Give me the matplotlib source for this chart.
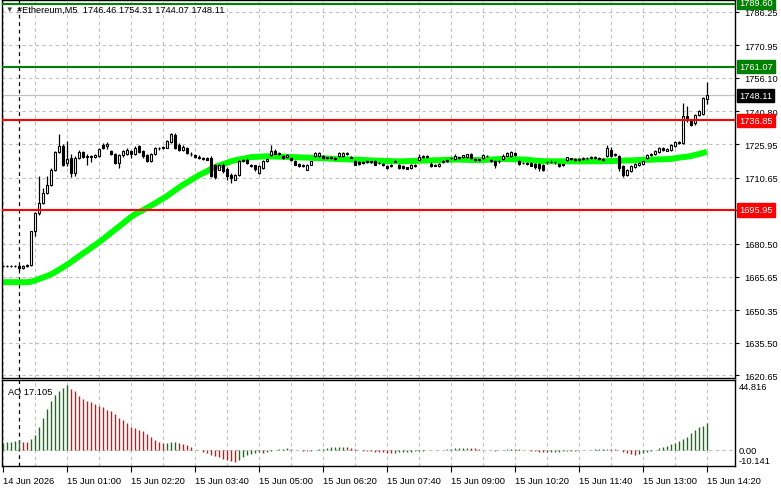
import matplotlib
matplotlib.use("Agg")
import matplotlib.pyplot as plt
import matplotlib.transforms as mtransforms
import numpy as np

# ---------------- data ----------------
opens = [1670.3, 1670.4, 1670.5, 1670.3, 1670.6, 1669.5, 1670.4, 1670.9, 1686.2, 1694.5,
         1699.1, 1703.7, 1707.5, 1714.3, 1722.4, 1725.0, 1717.4, 1719.6, 1712.8, 1719.6,
         1722.4, 1720.0, 1720.4, 1720.0, 1720.4, 1725.4, 1725.0, 1722.7, 1721.2, 1717.4,
         1720.8, 1721.5, 1722.7, 1721.5, 1725.0, 1723.0, 1720.8, 1718.4, 1721.4, 1724.0,
         1724.2, 1724.3, 1727.0, 1730.0, 1725.7, 1723.4, 1724.2, 1721.6, 1720.8, 1720.2,
         1719.5, 1719.6, 1719.6, 1716.3, 1714.3, 1716.6, 1714.7, 1712.0, 1709.8, 1712.0,
         1718.4, 1718.9, 1716.6, 1716.3, 1712.8, 1715.1, 1718.1, 1720.9, 1723.0, 1721.5,
         1720.4, 1720.2, 1719.6, 1718.1, 1716.8, 1716.6, 1714.3, 1716.6, 1720.4, 1720.4,
         1720.4, 1719.6, 1719.8, 1719.6, 1720.4, 1720.4, 1721.2, 1720.2, 1718.4, 1717.8,
         1717.8, 1718.1, 1717.8, 1718.1, 1717.4, 1716.8, 1715.8, 1716.2, 1718.1, 1716.3,
         1715.8, 1715.3, 1715.1, 1716.3, 1718.9, 1719.9, 1720.0, 1716.9, 1716.3, 1715.8,
         1717.6, 1718.4, 1719.4, 1719.2, 1719.8, 1719.9, 1720.0, 1721.5, 1718.9, 1718.9,
         1719.6, 1720.4, 1718.9, 1718.1, 1718.1, 1719.0, 1720.7, 1720.6, 1721.9, 1718.1,
         1717.4, 1717.2, 1717.2, 1716.9, 1716.9, 1716.6, 1717.6, 1718.0, 1717.6, 1717.0,
         1716.6, 1718.9, 1719.4, 1718.9, 1718.9, 1719.2, 1719.6, 1719.4, 1720.0, 1719.6,
         1719.0, 1720.4, 1723.4, 1721.5, 1720.4, 1715.8, 1712.0, 1713.6, 1715.4, 1716.4,
         1717.0, 1719.6, 1720.8, 1721.5, 1722.4, 1724.2, 1723.0, 1723.4, 1725.0, 1726.9,
         1726.3, 1738.6, 1736.7, 1735.5, 1739.1, 1739.7, 1746.46]
highs = [1670.8, 1670.9, 1671.0, 1670.9, 1670.9, 1670.8, 1671.2, 1686.6, 1694.9, 1711.3,
         1706.0, 1711.3, 1715.0, 1723.0, 1730.3, 1725.8, 1727.2, 1721.2, 1720.5, 1723.4,
         1723.0, 1721.2, 1721.0, 1721.5, 1724.2, 1726.4, 1727.0, 1723.4, 1721.9, 1721.2,
         1723.4, 1724.2, 1723.2, 1725.0, 1725.4, 1723.4, 1721.2, 1721.9, 1724.4, 1724.8,
         1725.2, 1727.6, 1731.0, 1730.8, 1726.4, 1725.4, 1724.8, 1722.4, 1721.4, 1720.8,
         1720.0, 1720.0, 1720.5, 1717.0, 1717.0, 1717.2, 1715.4, 1712.8, 1712.5, 1718.9,
         1719.2, 1719.5, 1717.0, 1716.6, 1716.2, 1718.6, 1719.3, 1725.4, 1723.8, 1722.4,
         1721.0, 1721.2, 1720.0, 1718.5, 1717.4, 1717.0, 1716.8, 1718.4, 1722.2, 1722.2,
         1720.8, 1720.2, 1720.3, 1720.0, 1722.2, 1722.3, 1722.4, 1720.6, 1718.8, 1718.3,
         1718.4, 1718.5, 1718.4, 1718.6, 1717.9, 1717.3, 1716.2, 1716.8, 1718.6, 1717.0,
         1716.4, 1715.6, 1716.8, 1716.8, 1721.2, 1721.0, 1721.0, 1717.8, 1716.8, 1717.2,
         1718.5, 1719.2, 1720.0, 1721.2, 1720.2, 1721.0, 1721.5, 1722.0, 1719.4, 1719.3,
         1721.2, 1720.9, 1719.3, 1718.6, 1718.6, 1721.2, 1722.4, 1722.6, 1722.3, 1718.5,
         1717.8, 1717.6, 1717.6, 1717.3, 1717.3, 1717.0, 1718.4, 1718.6, 1718.2, 1717.4,
         1717.0, 1720.2, 1719.8, 1719.4, 1719.6, 1720.0, 1720.2, 1720.4, 1720.6, 1720.2,
         1719.6, 1725.7, 1724.5, 1722.0, 1721.0, 1716.2, 1714.6, 1716.2, 1717.2, 1717.6,
         1718.4, 1721.2, 1721.8, 1723.1, 1724.6, 1724.6, 1724.2, 1726.0, 1727.2, 1727.3,
         1744.7, 1743.2, 1737.3, 1739.6, 1741.6, 1747.5, 1754.31]
lows = [1669.9, 1670.0, 1670.1, 1669.8, 1668.8, 1669.3, 1670.0, 1670.5, 1684.3, 1693.8,
        1698.5, 1703.0, 1706.8, 1713.8, 1721.8, 1716.0, 1716.0, 1710.8, 1711.6, 1719.0,
        1719.6, 1716.6, 1717.6, 1719.4, 1720.0, 1723.5, 1723.5, 1721.0, 1716.8, 1715.1,
        1720.0, 1721.0, 1719.6, 1721.0, 1722.0, 1719.8, 1717.8, 1717.8, 1720.8, 1723.4,
        1723.8, 1724.0, 1726.5, 1723.5, 1723.0, 1723.0, 1721.5, 1720.5, 1719.6, 1719.0,
        1718.5, 1718.6, 1710.8, 1710.0, 1714.0, 1713.0, 1709.8, 1708.2, 1709.5, 1711.5,
        1717.6, 1716.8, 1715.4, 1713.6, 1712.3, 1714.8, 1717.6, 1720.4, 1721.2, 1721.0,
        1719.2, 1719.6, 1718.4, 1716.2, 1715.3, 1715.4, 1714.0, 1716.2, 1720.0, 1720.0,
        1719.0, 1719.2, 1719.2, 1718.8, 1720.0, 1720.0, 1720.8, 1719.4, 1716.2, 1716.6,
        1717.0, 1717.5, 1717.2, 1716.2, 1716.8, 1715.8, 1714.5, 1715.4, 1717.6, 1714.8,
        1714.5, 1714.5, 1714.8, 1715.6, 1718.6, 1719.4, 1719.5, 1715.6, 1715.8, 1715.4,
        1717.2, 1718.0, 1719.0, 1718.8, 1719.3, 1719.6, 1719.6, 1719.2, 1718.4, 1718.3,
        1719.3, 1719.9, 1717.8, 1715.2, 1717.5, 1718.6, 1720.4, 1720.2, 1720.5, 1716.3,
        1716.8, 1716.4, 1715.8, 1714.6, 1713.9, 1713.6, 1717.0, 1717.3, 1717.0, 1715.4,
        1716.0, 1718.2, 1718.8, 1718.3, 1718.4, 1718.8, 1718.9, 1719.0, 1719.2, 1718.8,
        1718.3, 1720.0, 1720.0, 1720.6, 1713.9, 1710.8, 1711.4, 1713.2, 1715.0, 1716.0,
        1716.6, 1719.2, 1720.4, 1721.0, 1722.0, 1722.8, 1722.6, 1723.0, 1724.6, 1725.8,
        1725.9, 1736.0, 1734.1, 1734.4, 1738.6, 1739.3, 1744.07]
closes = [1670.4, 1670.5, 1670.3, 1670.6, 1669.5, 1670.4, 1670.9, 1686.2, 1694.5, 1699.1,
          1703.7, 1707.5, 1714.3, 1722.4, 1725.0, 1716.6, 1719.2, 1712.8, 1719.6, 1722.4,
          1720.0, 1720.4, 1720.0, 1720.8, 1723.9, 1724.0, 1726.0, 1721.5, 1717.4, 1720.8,
          1723.0, 1723.4, 1721.5, 1724.2, 1722.4, 1720.4, 1718.4, 1721.4, 1724.0, 1724.2,
          1724.8, 1727.2, 1730.3, 1724.0, 1723.4, 1724.6, 1721.9, 1721.2, 1720.2, 1719.5,
          1719.0, 1718.9, 1711.3, 1710.8, 1716.3, 1713.6, 1711.3, 1710.5, 1712.0, 1718.4,
          1718.6, 1717.4, 1716.0, 1714.8, 1715.8, 1718.1, 1719.0, 1723.0, 1721.5, 1721.6,
          1719.7, 1720.8, 1718.6, 1716.6, 1716.0, 1715.8, 1716.6, 1718.1, 1721.9, 1721.9,
          1719.4, 1719.8, 1719.6, 1719.0, 1721.9, 1721.9, 1721.9, 1719.8, 1716.6, 1717.0,
          1717.4, 1717.8, 1718.1, 1716.6, 1717.2, 1716.2, 1714.9, 1716.0, 1718.0, 1715.1,
          1714.9, 1714.8, 1716.3, 1716.0, 1719.9, 1720.4, 1720.3, 1715.8, 1716.0, 1716.9,
          1718.1, 1718.9, 1719.6, 1720.4, 1719.6, 1720.8, 1721.2, 1719.6, 1718.9, 1718.7,
          1720.8, 1720.5, 1718.1, 1716.6, 1718.2, 1720.7, 1721.9, 1722.2, 1720.9, 1716.9,
          1717.2, 1716.8, 1716.1, 1715.4, 1715.1, 1714.3, 1718.0, 1717.6, 1717.8, 1715.8,
          1716.4, 1719.9, 1719.2, 1718.8, 1719.2, 1719.6, 1719.4, 1720.0, 1719.6, 1719.0,
          1718.8, 1724.2, 1720.4, 1721.0, 1715.1, 1712.0, 1714.3, 1715.8, 1716.9, 1717.4,
          1718.1, 1720.9, 1721.5, 1722.7, 1724.2, 1723.2, 1723.9, 1725.7, 1726.8, 1726.3,
          1738.6, 1736.7, 1734.8, 1739.1, 1740.9, 1747.0, 1748.11]

ma_values = [1663.1, 1663.1, 1663.1, 1663.1, 1663.1, 1663.1, 1663.1, 1663.3, 1663.9, 1664.6,
             1665.2, 1665.9, 1666.7, 1667.7, 1668.8, 1669.9, 1671.0, 1672.3, 1673.6, 1674.9,
             1676.2, 1677.4, 1678.7, 1680.0, 1681.3, 1682.7, 1684.1, 1685.6, 1687.0, 1688.4,
             1689.9, 1691.3, 1692.8, 1694.0, 1695.0, 1695.9, 1696.9, 1697.9, 1699.0, 1700.1,
             1701.2, 1702.3, 1703.6, 1704.9, 1706.2, 1707.4, 1708.5, 1709.6, 1710.7, 1711.8,
             1712.7, 1713.6, 1714.6, 1715.5, 1716.2, 1716.8, 1717.4, 1718.1, 1718.6, 1718.9,
             1719.3, 1719.6, 1720.0, 1720.1, 1720.2, 1720.3, 1720.4, 1720.3, 1720.3, 1720.2,
             1720.2, 1720.1, 1720.0, 1720.0, 1719.9, 1719.8, 1719.8, 1719.7, 1719.6, 1719.5,
             1719.5, 1719.4, 1719.3, 1719.2, 1719.1, 1719.1, 1719.0, 1718.9, 1718.8, 1718.8,
             1718.7, 1718.6, 1718.5, 1718.4, 1718.4, 1718.3, 1718.2, 1718.2, 1718.1, 1718.1,
             1718.1, 1718.2, 1718.2, 1718.3, 1718.4, 1718.4, 1718.5, 1718.5, 1718.6, 1718.6,
             1718.7, 1718.8, 1718.8, 1718.9, 1718.9, 1718.8, 1718.8, 1718.7, 1718.7, 1718.6,
             1718.7, 1718.8, 1718.9, 1719.0, 1719.1, 1719.2, 1719.1, 1719.1, 1719.0, 1719.0,
             1718.9, 1718.9, 1718.6, 1718.4, 1718.3, 1718.2, 1718.1, 1718.1, 1718.1, 1718.1,
             1718.1, 1718.1, 1718.1, 1718.1, 1718.1, 1718.1, 1718.1, 1718.1, 1718.1, 1718.1,
             1718.1, 1718.2, 1718.2, 1718.3, 1718.3, 1718.4, 1718.5, 1718.5, 1718.6, 1718.7,
             1718.7, 1718.8, 1718.8, 1718.9, 1719.0, 1719.0, 1719.1, 1719.2, 1719.5, 1719.8,
             1720.0, 1720.2, 1720.5, 1721.0, 1721.4, 1721.9, 1722.4]

ao_values = [4.5, 5.1, 5.5, 6.0, 6.6, 5.5, 5.1, 7.2, 9.8, 15.1,
             20.4, 26.2, 31.1, 35.4, 37.9, 39.6, 41.8, 39.2, 37.5, 34.3,
             32.6, 31.1, 30.5, 29.4, 27.9, 27.3, 25.8, 24.7, 23.0, 20.4,
             19.4, 17.3, 14.5, 14.1, 13.0, 12.0, 10.3, 8.1, 6.6, 5.1,
             4.3, 4.6, 5.0, 5.2, 4.6, 3.8, 3.0, 1.7, 0.2, -0.1,
             -1.3, -1.9, -3.4, -4.0, -4.7, -5.5, -6.2, -6.8, -7.7, -6.2,
             -4.7, -3.4, -2.6, -1.9, -1.3, -1.9, -0.9, -0.4, 0.2, 0.6,
             0.9, 1.3, 0.6, 0.2, 0.0, -0.3, -0.5, -0.4, -0.2, 0.5,
             1.0, 1.4, 1.7, 1.9, 2.0, 2.1, 1.9, 1.5, 0.8, 0.2,
             -0.3, -0.6, -0.8, -1.1, -1.3, -1.5, -1.6, -1.8, -1.6, -1.4,
             -1.2, -1.1, -0.9, -0.7, -0.5, -0.3, -0.1, 0.0, 0.1, 0.2,
             0.4, 0.6, 0.9, 1.1, 1.3, 1.5, 1.6, 1.5, 1.2, 0.8,
             0.4, 0.1, -0.1, -0.3, -0.1, 0.2, 0.5, 0.8, 0.9, 0.7,
             0.4, 0.1, -0.3, -0.6, -1.0, -1.3, -1.4, -1.2, -1.0, -0.9,
             -0.8, -0.6, -0.5, -0.3, -0.2, 0.0, 0.2, 0.4, 0.6, 0.7,
             0.8, 0.9, 0.8, 0.5, -0.1, -0.9, -1.7, -2.5, -3.0, -2.4,
             -2.0, -1.2, -0.4, 0.4, 1.2, 1.9, 2.7, 3.6, 4.6, 5.8,
             7.2, 8.7, 10.9, 12.6, 14.7, 15.5, 17.105]

time_labels = ["14 Jun 2026", "15 Jun 01:00", "15 Jun 02:20", "15 Jun 03:40",
               "15 Jun 05:00", "15 Jun 06:20", "15 Jun 07:40", "15 Jun 09:00",
               "15 Jun 10:20", "15 Jun 11:40", "15 Jun 13:00", "15 Jun 14:20"]
time_label_bars = [0, 16, 32, 48, 64, 80, 96, 112, 128, 144, 160, 176]
day_break_bar = 4

price_ticks = [1786.25, 1770.95, 1756.10, 1740.80, 1725.95, 1710.65, 1695.80,
               1680.50, 1665.65, 1650.35, 1635.50, 1620.65]
price_tick_labels = ["1786.25", "1770.95", "1756.10", "1740.80", "1725.95", "1710.65", "",
                     "1680.50", "1665.65", "1650.35", "1635.50", "1620.65"]

level_prices = [1789.60, 1761.07, 1736.85, 1695.95]
level_colors = ["#008000", "#008000", "#ff0000", "#ff0000"]
last_price = 1748.11

symbol_title = "#Ethereum,M5  1746.46 1754.31 1744.07 1748.11"
ao_title = "AO 17.105"
ao_max, ao_min = 44.816, -10.141

# ---------------- figure ----------------
W, H = 781, 489
FS = 6.7
plt.rcParams["font.family"] = ["Liberation Sans", "DejaVu Sans"]
fig = plt.figure(figsize=(W / 100, H / 100), dpi=100)
fig.patch.set_facecolor("white")

def rect(x0, y0, x1, y1):
    return [x0 / W, 1 - y1 / H, (x1 - x0) / W, (y1 - y0) / H]

ax = fig.add_axes(rect(2, 1, 735, 379))
ax2 = fig.add_axes(rect(2, 381, 735, 467))

n = len(closes)
xs = np.arange(n)
o = np.array(opens); c = np.array(closes); h = np.array(highs); l = np.array(lows)

grid_kw = dict(color="#c0c0c0", linestyle=(0, (3, 3)), linewidth=0.8, zorder=0.5)

for a in (ax, ax2):
    a.set_xlim(-0.25, 183)
    for s in a.spines.values():
        s.set_color("black")
        s.set_linewidth(1.0)
    for b in range(0, n, 8):
        a.axvline(b, **grid_kw)
    a.axvline(day_break_bar, color="black", linestyle=(0, (3, 3)), linewidth=0.9, zorder=0.6)

# main panel
ax.set_ylim(1619.5, 1791.5)
for p in price_ticks:
    ax.axhline(p, **grid_kw)

ax.plot(xs, ma_values, color="#00ff00", linewidth=4.3, solid_capstyle="butt", zorder=2)

ax.vlines(xs, l, h, color="black", linewidth=0.9, zorder=3)
bull = c >= o
body_low = np.minimum(o, c)
body_h = np.maximum(np.abs(c - o), 0.25)
ax.bar(xs[bull], body_h[bull], bottom=body_low[bull], width=0.55,
       facecolor="white", edgecolor="black", linewidth=0.8, zorder=4)
ax.bar(xs[~bull], body_h[~bull], bottom=body_low[~bull], width=0.55,
       facecolor="black", edgecolor="black", linewidth=0.8, zorder=4)

ax.axhline(last_price, color="#c0c0c0", linewidth=0.9, zorder=1)
for p, col in zip(level_prices, level_colors):
    ax.axhline(p, color=col, linewidth=1.5, zorder=5)

ax.set_xticks([])
ax.yaxis.tick_right()
ax.set_yticks(price_ticks)
ax.set_yticklabels(price_tick_labels)
ax.tick_params(axis="y", length=3, width=0.8, pad=4, labelsize=FS, colors="black")

trans = mtransforms.blended_transform_factory(ax.transAxes, ax.transData)
def price_box(p, txt, col, dy=0.0):
    ax.text(1.0055, p + dy, txt, transform=trans, ha="left", va="center", fontsize=FS,
            color="white", clip_on=False, zorder=10,
            bbox=dict(boxstyle="square,pad=0.22", facecolor=col, edgecolor=col))

for p, col in zip(level_prices, level_colors):
    price_box(p, f"{p:.2f}", col, dy=(0.8 if p == 1789.60 else 0.0))
price_box(last_price, f"{last_price:.2f}", "black")

fig.text(5 / W, 1 - 10 / H, "\u25bc", fontsize=5.5, color="#404040", va="center", ha="left")
fig.text(17 / W, 1 - 10 / H, symbol_title, fontsize=FS, color="black", va="center", ha="left")

# AO panel
ax2.set_ylim(ao_min, ao_max)
ax2.axhline(0, **grid_kw)
ao = np.array(ao_values)
ao_cols = ["#008000"] + ["#008000" if ao[i] > ao[i - 1] else "#ff0000" for i in range(1, n)]
ax2.vlines(xs, 0, ao, colors=ao_cols, linewidth=1.0, zorder=3)
ax2.set_yticks([])
ax2.text(0.008, 0.87, ao_title, transform=ax2.transAxes, fontsize=FS, va="center",
         ha="left", color="black")

fig.text(739 / W, 1 - 388 / H, f"{ao_max:.3f}", fontsize=FS, va="center", ha="left")
fig.text(739 / W, 1 - 452 / H, "0.00", fontsize=FS, va="center", ha="left")
fig.text(739 / W, 1 - 462 / H, f"{ao_min:.3f}", fontsize=FS, va="center", ha="left")

ax2.set_xticks(time_label_bars)
ax2.set_xticklabels(time_labels, ha="left")
ax2.tick_params(axis="x", length=4, width=0.8, pad=3, labelsize=FS, colors="black")

fig.savefig("out.png", dpi=100, facecolor="white")
